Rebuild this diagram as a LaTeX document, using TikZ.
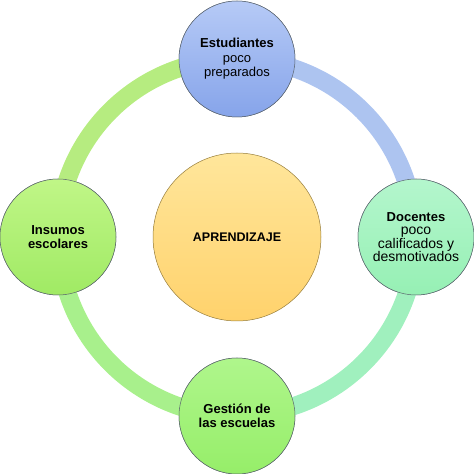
\documentclass[tikz,border=0pt]{standalone}
\usepackage{fontspec}
\setmainfont{Liberation Sans}
\definecolor{ringTR}{RGB}{173,196,240}
\definecolor{ringRB}{RGB}{160,240,190}
\definecolor{ringBL}{RGB}{168,240,140}
\definecolor{ringLT}{RGB}{182,236,128}
\definecolor{blueT}{RGB}{182,202,246}
\definecolor{blueB}{RGB}{134,164,234}
\definecolor{mintT}{RGB}{180,246,205}
\definecolor{mintB}{RGB}{150,240,180}
\definecolor{limeT}{RGB}{192,246,135}
\definecolor{limeB}{RGB}{160,234,100}
\definecolor{grnT}{RGB}{175,246,140}
\definecolor{grnB}{RGB}{150,238,105}
\definecolor{yelT}{RGB}{255,230,155}
\definecolor{yelB}{RGB}{255,210,108}
\definecolor{edgeC}{RGB}{90,100,110}
\definecolor{edgeY}{RGB}{150,125,60}
\tikzset{
  sat/.style={circle, minimum size=116pt, inner sep=0pt, draw=edgeC, line width=0.5pt,
    align=center, font=\fontsize{13}{14.5}\selectfont},
  hub/.style={circle, minimum size=168pt, inner sep=0pt, draw=edgeY, line width=0.5pt,
    top color=yelT, bottom color=yelB, font=\fontsize{12.5}{14}\selectfont\bfseries},
  ring/.style={line width=18pt}
}
\begin{document}
\begin{tikzpicture}[x=1pt,y=1pt]
\useasboundingbox (0,0) rectangle (474,474);
\coordinate (c) at (237,237);
\node[sat, top color=blueT, bottom color=blueB] (top) at (237,415) {};
\node[sat, top color=mintT, bottom color=mintB] (right) at (416,237) {};
\node[sat, top color=grnT, bottom color=grnB] (bottom) at (237,58) {};
\node[sat, top color=limeT, bottom color=limeB] (left) at (58,237) {};
\draw[ring, ringTR] (top.center) arc[start angle=90, end angle=0, radius=178];
\draw[ring, ringRB] (right.center) arc[start angle=0, end angle=-90, radius=178];
\draw[ring, ringBL] (bottom.center) arc[start angle=270, end angle=180, radius=178];
\draw[ring, ringLT] (left.center) arc[start angle=180, end angle=90, radius=178];
\node[sat, top color=blueT, bottom color=blueB] at (top) {\textbf{Estudiantes}\\poco\\preparados};
\node[sat, top color=mintT, bottom color=mintB, font=\fontsize{14}{13.5}\selectfont] at (right) {{\fontsize{13}{13.5}\selectfont\textbf{Docentes}}\\poco\\calificados y\\desmotivados};
\node[sat, top color=grnT, bottom color=grnB] at (bottom) {\textbf{Gestión de}\\\textbf{las escuelas}};
\node[sat, top color=limeT, bottom color=limeB] at (left) {\textbf{Insumos}\\\textbf{escolares}};
\node[hub] (hub) at (c) {APRENDIZAJE};
\end{tikzpicture}
\end{document}
